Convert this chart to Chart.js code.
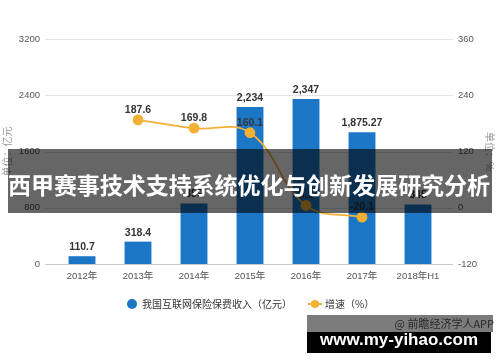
<!DOCTYPE html>
<html>
<head>
<meta charset="utf-8">
<script src="https://cdn.jsdelivr.net/npm/chart.js@4.4.0/dist/chart.umd.min.js"></script>
<style>
  html, body { margin: 0; padding: 0; background: #fff; }
  #wrap { position: relative; width: 500px; height: 362px; overflow: hidden; }
  #c { position: absolute; left: 0; top: 0; }
  .legend { position: absolute; top: 297px; height: 14px; font: 10px "Noto Sans CJK SC", sans-serif; color: #333; line-height: 14px; white-space: nowrap; }
  .dot { position: absolute; width: 10px; height: 10px; border-radius: 50%; }
  .banner { position: absolute; left: 8px; top: 149px; width: 484px; height: 64px; background: rgba(0,0,0,0.6); }
  .banner span { position: absolute; left: 0; top: 23px; font: bold 23px/24px "Noto Sans CJK SC", sans-serif; color: #fff; white-space: nowrap; }
  .src { position: absolute; left: 307px; top: 315px; width: 186px; height: 17px; background: #7b7b7b; }
  .src span { position: absolute; right: -1px; top: 1px; font: 11px/15px "Noto Sans CJK SC", sans-serif; color: #2a2a2a; white-space: nowrap; }
  .site { position: absolute; left: 307px; top: 332px; width: 184px; height: 21px; background: #000; }
  .site span { position: absolute; left: 0; width: 184px; text-align: center; top: -3px; font: bold 17px/22px "Liberation Sans", Arial, sans-serif; color: #fff; white-space: nowrap; }
</style>
</head>
<body>
<div id="wrap">
  <canvas id="c" width="500" height="362"></canvas>

  <div class="dot" style="left:127px; top:299px; background:#1b76c6;"></div>
  <div class="legend" style="left:142px;">我国互联网保险保费收入（亿元）</div>
  <div style="position:absolute; left:308px; top:303px; width:14px; height:2px; background:#f2b134;"></div>
  <div class="dot" style="left:311px; top:300px; width:8px; height:8px; background:#f2b134;"></div>
  <div class="legend" style="left:325px;">增速（%）</div>

  <div class="banner"><span id="bt">西甲赛事技术支持系统优化与创新发展研究分析</span></div>
  <div class="src"><span>@ 前瞻经济学人APP</span></div>
  <div class="site"><span>www.my-yihao.com</span></div>
</div>

<script>
const categories = ['2012年', '2013年', '2014年', '2015年', '2016年', '2017年', '2018年H1'];
const premiumIncome = [110.7, 318.4, 859, 2234, 2347, 1875.27, 845];
const growthRate = [null, 187.6, 169.8, 160.1, 5.1, -20.1, null];
const leftTicks = [0, 800, 1600, 2400, 3200];
const rightTicks = [-120, 0, 120, 240, 360];
const seriesNames = ['我国互联网保险保费收入（亿元）', '增速（%）'];

const BAR_COLOR = '#1b76c6';
const LINE_COLOR = '#f2b134';

// fit banner text to the banner width (482px)
(function fitBanner() {
  const el = document.getElementById('bt');
  const n = el.textContent.length;
  const w = el.getBoundingClientRect().width;
  const target = 482;
  el.style.letterSpacing = ((target - w) / n).toFixed(2) + 'px';
})();

const gridPlugin = {
  id: 'extGrid',
  beforeDatasetsDraw(chart) {
    const ctx = chart.ctx;
    const y = chart.scales.y;
    ctx.save();
    ctx.lineWidth = 1;
    leftTicks.forEach(v => {
      const py = Math.round(y.getPixelForValue(v)) + 0.5;
      ctx.strokeStyle = v === 0 ? '#c9c9c9' : '#e4e4e4';
      ctx.beginPath();
      ctx.moveTo(45, py);
      ctx.lineTo(453, py);
      ctx.stroke();
    });
    ctx.restore();
  }
};

const labelPlugin = {
  id: 'valueLabels',
  afterDatasetsDraw(chart) {
    const ctx = chart.ctx;
    ctx.save();
    ctx.font = 'bold 10.5px "Liberation Sans", Arial, sans-serif';
    ctx.fillStyle = '#353535';
    ctx.textAlign = 'center';
    ctx.textBaseline = 'middle';
    const barMeta = chart.getDatasetMeta(0);
    barMeta.data.forEach((el, i) => {
      const v = premiumIncome[i];
      if (v == null) return;
      ctx.fillText(v.toLocaleString('en-US', {maximumFractionDigits: 2}), el.x, el.y - 9);
    });
    const lineMeta = chart.getDatasetMeta(1);
    lineMeta.data.forEach((el, i) => {
      const v = growthRate[i];
      if (v == null) return;
      ctx.fillText(v.toFixed(1), el.x, el.y - 10);
    });
    ctx.restore();
  }
};

const plainTick = v => String(v);

new Chart(document.getElementById('c'), {
  data: {
    labels: categories,
    datasets: [
      {
        type: 'bar',
        label: seriesNames[0],
        data: premiumIncome,
        backgroundColor: BAR_COLOR,
        yAxisID: 'y',
        barPercentage: 0.48,
        categoryPercentage: 1,
        order: 2
      },
      {
        type: 'line',
        label: seriesNames[1],
        data: growthRate,
        borderColor: LINE_COLOR,
        backgroundColor: LINE_COLOR,
        borderWidth: 1.8,
        pointRadius: 4.5,
        pointBackgroundColor: LINE_COLOR,
        pointBorderColor: LINE_COLOR,
        tension: 0.4,
        yAxisID: 'y1',
        order: 1
      }
    ]
  },
  options: {
    responsive: false,
    devicePixelRatio: 1,
    animation: false,
    layout: { padding: { top: 39, bottom: 68, left: 0, right: 0 } },
    plugins: {
      legend: { display: false },
      tooltip: { enabled: false }
    },
    scales: {
      x: {
        grid: { display: false, drawTicks: false },
        border: { display: false },
        ticks: { color: '#555', padding: 7, font: { size: 9.5, family: '"Liberation Sans", "Noto Sans CJK SC", sans-serif' }, maxRotation: 0, autoSkip: false },
        afterFit(s) { s.height = 30; }
      },
      y: {
        position: 'left',
        min: 0, max: 3200,
        afterBuildTicks(s) { s.ticks = leftTicks.map(v => ({ value: v })); },
        grid: { display: false, drawTicks: false },
        border: { display: false },
        ticks: { color: '#555', padding: 14, callback: plainTick, font: { size: 9.5, family: '"Liberation Sans", Arial, sans-serif' } },
        title: { display: true, text: '单位：亿元', color: '#999', padding: { top: 1, bottom: 0 }, font: { size: 10, family: '"Noto Sans CJK SC", sans-serif' } },
        afterFit(s) { s.width = 54; }
      },
      y1: {
        position: 'right',
        min: -120, max: 360,
        afterBuildTicks(s) { s.ticks = rightTicks.map(v => ({ value: v })); },
        grid: { display: false, drawTicks: false },
        border: { display: false },
        ticks: { color: '#555', padding: 12, callback: plainTick, font: { size: 9.5, family: '"Liberation Sans", Arial, sans-serif' } },
        title: { display: true, text: '单位：%', color: '#999', padding: { top: 4, bottom: 0 }, font: { size: 10, family: '"Noto Sans CJK SC", sans-serif' } },
        afterFit(s) { s.width = 54; }
      }
    }
  },
  plugins: [gridPlugin, labelPlugin]
});
</script>
</body>
</html>
